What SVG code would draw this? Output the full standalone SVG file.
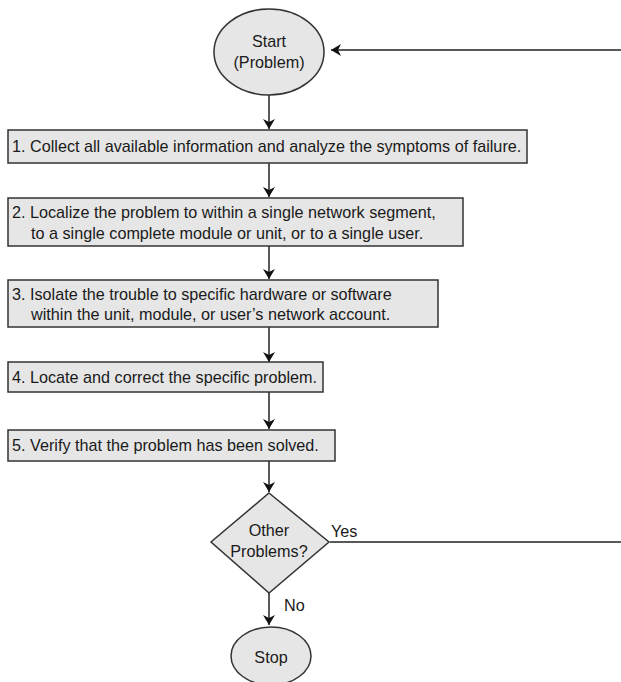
<svg xmlns="http://www.w3.org/2000/svg" width="621" height="682" viewBox="0 0 621 682">
<defs>
<style>
.shape{fill:#e6e6e6;stroke:#333;stroke-width:1.5}
.t{font-family:"Liberation Sans",Arial,sans-serif;font-size:16.2px;fill:#1a1a1a}
.c{text-anchor:middle}
.ln{stroke:#222;stroke-width:1.5;fill:none}
</style>
<marker id="ah" viewBox="0 0 10 12" refX="10" refY="6" markerWidth="10" markerHeight="12" markerUnits="userSpaceOnUse" orient="auto">
<path d="M0,0 L10,6 L0,12 L3,6 Z" fill="#111"/>
</marker>
</defs>
<rect width="621" height="682" fill="#fff"/>
<g id="connectors">
<line class="ln" x1="621" y1="50" x2="331" y2="50" marker-end="url(#ah)"/>
<line class="ln" x1="269" y1="95" x2="269" y2="129" marker-end="url(#ah)"/>
<line class="ln" x1="269" y1="163" x2="269" y2="197" marker-end="url(#ah)"/>
<line class="ln" x1="269" y1="246" x2="269" y2="279" marker-end="url(#ah)"/>
<line class="ln" x1="269" y1="327" x2="269" y2="362" marker-end="url(#ah)"/>
<line class="ln" x1="269" y1="392" x2="269" y2="429" marker-end="url(#ah)"/>
<line class="ln" x1="269" y1="461" x2="269" y2="492" marker-end="url(#ah)"/>
<line class="ln" x1="269" y1="593" x2="269" y2="625" marker-end="url(#ah)"/>
<line class="ln" x1="330" y1="542" x2="621" y2="542" stroke="#444"/>
<text class="t" x="331" y="537">Yes</text>
<text class="t" x="284" y="611">No</text>
</g>
<g id="start">
<ellipse class="shape" cx="269" cy="52" rx="55" ry="43"/>
<text class="t c" x="269" y="47">Start</text>
<text class="t c" x="269" y="68">(Problem)</text>
</g>
<g id="step1">
<rect class="shape" x="8" y="130" width="519" height="33"/>
<text class="t" x="12" y="152">1. Collect all available information and analyze the symptoms of failure.</text>
</g>
<g id="step2">
<rect class="shape" x="8" y="198" width="455" height="48"/>
<text class="t" x="12" y="218">2. Localize the problem to within a single network segment,</text>
<text class="t" x="31" y="239">to a single complete module or unit, or to a single user.</text>
</g>
<g id="step3">
<rect class="shape" x="8" y="280" width="430" height="47"/>
<text class="t" x="12" y="300">3. Isolate the trouble to specific hardware or software</text>
<text class="t" x="31" y="320">within the unit, module, or user’s network account.</text>
</g>
<g id="step4">
<rect class="shape" x="8" y="362" width="315" height="30"/>
<text class="t" x="12" y="383">4. Locate and correct the specific problem.</text>
</g>
<g id="step5">
<rect class="shape" x="8" y="430" width="327" height="31"/>
<text class="t" x="12" y="451">5. Verify that the problem has been solved.</text>
</g>
<g id="decision">
<polygon class="shape" points="269,493 329,542 269,593 211,542"/>
<text class="t c" x="269" y="536">Other</text>
<text class="t c" x="269" y="557">Problems?</text>
</g>
<g id="stop">
<ellipse class="shape" cx="271" cy="656" rx="40" ry="29"/>
<text class="t c" x="271" y="663">Stop</text>
</g>
</svg>
